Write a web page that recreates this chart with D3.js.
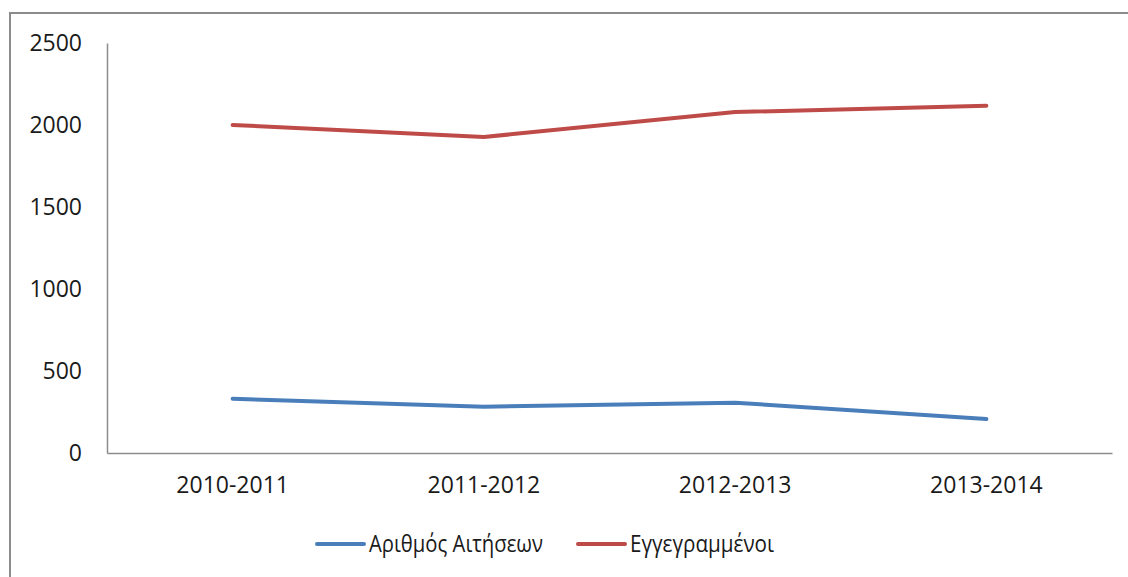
<!DOCTYPE html>
<html>
<head>
<meta charset="utf-8">
<script src="https://cdn.jsdelivr.net/npm/d3@7"></script>
<style>
  body { margin: 0; background: #fff; }
  svg { display: block; font-family: "Open Sans", sans-serif; }
</style>
</head>
<body>
<div id="chart-container"></div>
<script>
const width = 1128;
const height = 577;
const margin = { top: 43, left: 107, right: 16, bottom: 124 };

// data
const years = ["2010-2011", "2011-2012", "2012-2013", "2013-2014"];
const aitiseis = [331, 282, 307, 207];
const eggegrammenoi = [2000, 1927, 2079, 2117];
const yTicks = [0, 500, 1000, 1500, 2000, 2500];
const seriesNames = ["Αριθμός Αιτήσεων", "Εγγεγραμμένοι"];
const seriesColors = ["#4a7ebb", "#be4b48"];

const series = [aitiseis, eggegrammenoi].map((vals, i) => ({
  name: seriesNames[i],
  color: seriesColors[i],
  values: vals.map((v, j) => ({ year: years[j], value: v }))
}));

const svg = d3.select("#chart-container").append("svg")
  .attr("width", width)
  .attr("height", height);

// outer frame of the chart object
svg.append("rect")
  .attr("x", 10).attr("y", 13)
  .attr("width", width + 20).attr("height", height + 20)
  .attr("fill", "none")
  .attr("stroke", "#8c8c8c")
  .attr("stroke-width", 2);

const x = d3.scaleBand()
  .domain(years)
  .range([margin.left, width - margin.right])
  .padding(0);

const y = d3.scaleLinear()
  .domain([0, 2500])
  .range([height - margin.bottom, margin.top]);

const x0 = height - margin.bottom;

const yAxis = g => g
  .attr("transform", `translate(${margin.left},0)`)
  .call(d3.axisLeft(y).tickValues(yTicks).tickFormat(d3.format("d")).tickSize(0).tickPadding(25))
  .call(g => g.select(".domain").attr("stroke", "#8c8c8c").attr("stroke-width", 1.5))
  .call(g => g.selectAll("text")
    .attr("font-family", "Open Sans")
    .attr("font-size", 23)
    .attr("fill", "#1a1a1a"));

const xAxis = g => g
  .attr("transform", `translate(0,${x0})`)
  .call(d3.axisBottom(x).tickSize(0).tickPadding(24).tickSizeOuter(0))
  .call(g => g.select(".domain").attr("stroke", "#8c8c8c").attr("stroke-width", 1.5))
  .call(g => g.selectAll("text")
    .attr("font-family", "Open Sans")
    .attr("font-size", 23)
    .attr("fill", "#1a1a1a"));

svg.append("g").call(yAxis);
svg.append("g").call(xAxis);

const line = d3.line()
  .x(d => x(d.year) + x.bandwidth() / 2)
  .y(d => y(d.value));

svg.append("g")
  .selectAll("path")
  .data(series)
  .enter().append("path")
  .attr("d", d => line(d.values))
  .attr("fill", "none")
  .attr("stroke", d => d.color)
  .attr("stroke-width", 4)
  .attr("stroke-linecap", "round")
  .attr("stroke-linejoin", "round");

// legend
const legendY = 544;
const legendX = [317, 578];
const legendTextLen = [174, 144];
const legend = svg.append("g")
  .selectAll("g")
  .data(series)
  .enter().append("g")
  .attr("transform", (d, i) => `translate(${legendX[i]},${legendY})`);

legend.append("line")
  .attr("x1", 0).attr("x2", 47)
  .attr("y1", 0).attr("y2", 0)
  .attr("stroke", d => d.color)
  .attr("stroke-width", 4)
  .attr("stroke-linecap", "round");

legend.append("text")
  .attr("x", 52)
  .attr("y", 0)
  .attr("dy", "0.35em")
  .attr("font-size", 23)
  .attr("fill", "#1a1a1a")
  .attr("textLength", (d, i) => legendTextLen[i])
  .attr("lengthAdjust", "spacingAndGlyphs")
  .text(d => d.name);
</script>
</body>
</html>
